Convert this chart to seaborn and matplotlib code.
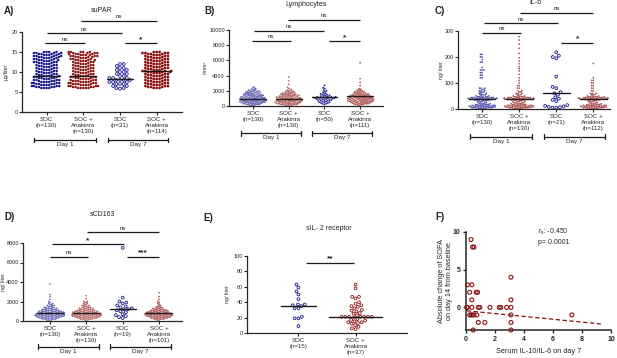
import numpy as np
import pandas as pd
import matplotlib
matplotlib.use("Agg")
import matplotlib.pyplot as plt
import seaborn as sns

BLUE = "#16168c"
RED = "#8c1212"

# values; *_v = value, *_n = how many dots sit at that value
# A) suPAR (ug/liter)
a_steps = [6.0, 6.25, 6.5, 6.75, 7.0, 7.25, 7.5, 7.75, 8.0, 8.25, 8.5, 8.75, 9.0,
           9.25, 9.5, 9.75, 10.0, 10.25, 10.5, 10.75, 11.0, 11.25, 11.5, 11.75, 12.0,
           12.25, 12.5, 12.75, 13.0, 13.25, 13.5, 13.75, 14.0, 14.25, 14.5, 14.75, 15.0]
a_soc1_n = [4, 4, 4, 4, 4, 4, 4, 3, 4, 3, 4, 3, 4,
            3, 3, 3, 3, 3, 3, 3, 3, 3, 3, 3, 3,
            3, 4, 3, 4, 3, 4, 4, 4, 4, 4, 4, 4]
a_ana1_n = [5, 4, 4, 4, 4, 4, 4, 4, 3, 4, 3, 4, 3,
            3, 3, 3, 3, 3, 3, 3, 3, 3, 3, 3, 3,
            3, 3, 3, 4, 3, 3, 4, 4, 4, 4, 4, 5]
a_soc7 = [12, 12, 11.5, 11, 11, 10.5, 10.5, 10, 10, 9.5, 9.5, 9, 9, 8.5, 8.5, 8.5, 8, 8, 8, 8,
          7.5, 7.5, 7.5, 7, 7, 7, 6.5, 6.5, 6, 6, 5.8]
a_ana7_n = [3, 3, 3, 3, 3, 3, 3, 3, 3, 3, 3, 3, 3,
            3, 3, 3, 4, 4, 3, 3, 3, 3, 3, 3, 3,
            3, 3, 3, 3, 3, 3, 3, 3, 3, 3, 4, 3]
a_medians = [9.1, 9.0, 8.3, 10.2]
a_labels = ["SOC\n(n=130)", "SOC +\nAnakinra\n(n=130)", "SOC\n(n=31)", "SOC +\nAnakinra\n(n=114)"]

# B) Lymphocytes (/mm3)
b_soc1_v = [100, 200, 300, 400, 500, 600, 700, 800, 900, 1000, 1100, 1200, 1300,
            1400, 1500, 1600, 1700, 1800, 1900, 2000, 2100, 2200, 2300, 2400, 2500]
b_soc1_n = [4, 5, 6, 7, 8, 8, 8, 8, 8, 7, 7, 7, 6, 6, 6, 5, 5, 4, 4, 3, 3, 2, 1, 1, 1]
b_ana1_v = [100, 200, 300, 400, 500, 600, 700, 800, 900, 1000, 1100, 1200, 1300,
            1400, 1500, 1600, 1700, 1800, 1900, 2000, 2100, 2200, 2300, 2450, 2850, 3300, 3800]
b_ana1_n = [5, 6, 7, 8, 8, 8, 8, 8, 8, 7, 7, 7, 6, 6, 5, 5, 4, 4, 3, 2, 2, 1, 1, 1, 1, 1, 1]
b_soc7_v = [200, 300, 400, 500, 600, 700, 800, 900, 1000, 1100, 1200, 1300, 1400, 1500,
            1600, 1700, 1800, 1900, 2000, 2100, 2300, 2400, 2700]
b_soc7_n = [1, 2, 2, 3, 2, 3, 3, 4, 4, 5, 4, 3, 2, 2, 2, 1, 1, 1, 1, 1, 1, 1, 1]
b_ana7_v = [100, 200, 300, 400, 500, 600, 700, 800, 900, 1000, 1100, 1200, 1300,
            1400, 1500, 1600, 1700, 1800, 1900, 2000, 2100, 2200, 2300, 2700, 3100, 3600, 5700]
b_ana7_n = [2, 4, 5, 6, 6, 7, 7, 7, 7, 7, 7, 6, 6, 5, 5, 4, 4, 3, 3, 2, 2, 1, 1, 1, 1, 1, 1]
b_medians = [950, 950, 1200, 1300]
b_labels = ["SOC\n(n=130)", "SOC +\nAnakinra\n(n=130)", "SOC\n(n=50)", "SOC +\nAnakinra\n(n=111)"]

# C) IL-6 (ng/liter)
c_soc1_v = [2, 5, 8, 11, 14, 17, 20, 24, 28, 32, 35, 38, 41, 44, 47, 50, 55, 60, 65, 70, 75, 80,
            120, 130, 140, 150, 160, 180, 190, 200, 210]
c_soc1_n = [6, 7, 8, 8, 7, 5, 4, 3, 3, 4, 6, 9, 9, 8, 5, 3, 4, 3, 3, 3, 2, 3,
            2, 2, 2, 3, 1, 2, 1, 2, 2]
c_ana1_v = [2, 5, 8, 11, 14, 17, 20, 24, 28, 32, 35, 38, 41, 44, 47, 50, 55, 60, 65, 70, 80, 90,
            100, 110, 120, 133, 146, 155, 163, 174, 184, 197, 214, 233, 250, 265, 278]
c_ana1_n = [6, 7, 9, 9, 8, 5, 4, 4, 4, 3, 6, 10, 10, 8, 5, 3, 3, 3, 2, 2, 2, 2,
            1, 1, 1, 1, 1, 1, 1, 1, 1, 1, 1, 1, 1, 1, 1]
c_soc7 = [218, 205, 200, 195, 125, 85, 80, 65, 60, 55, 45, 40, 35, 30, 15, 12, 10, 8, 7, 5, 5]
c_ana7_v = [2, 5, 8, 11, 14, 17, 20, 24, 28, 32, 35, 38, 41, 44, 47, 50,
            55, 60, 70, 80, 90, 100, 110, 120, 175]
c_ana7_n = [6, 7, 8, 8, 7, 5, 4, 3, 3, 3, 5, 9, 10, 7, 6, 3,
            3, 3, 2, 2, 2, 2, 2, 1, 1]
c_medians = [40, 40, 60, 40]
c_labels = ["SOC\n(n=130)", "SOC +\nAnakinra\n(n=130)", "SOC\n(n=21)", "SOC +\nAnakinra\n(n=112)"]

# D) sCD163 (ng/liter)
d_soc1_v = [100, 200, 300, 400, 500, 600, 700, 800, 900, 1000, 1100, 1200, 1300, 1400,
            1500, 1600, 1700, 1800, 1900, 2000, 2200, 2500, 2700, 3800]
d_soc1_n = [4, 6, 8, 10, 11, 12, 11, 11, 10, 9, 7, 6, 5, 4, 3, 3, 2, 2, 1, 1, 1, 1, 1, 1]
d_ana1_v = [100, 200, 300, 400, 500, 600, 700, 800, 900, 1000, 1100, 1200, 1300, 1400,
            1500, 1600, 1700, 1800, 1900, 2000, 2300, 2600]
d_ana1_n = [3, 6, 8, 10, 11, 12, 12, 11, 10, 9, 7, 6, 5, 4, 3, 3, 2, 2, 2, 2, 1, 1]
d_soc7 = [7500, 2400, 2000, 1900, 1800, 1600, 1500, 1400, 1300, 1200, 1200, 1100, 1000, 900, 700, 600, 500, 400, 300]
d_ana7_v = [100, 200, 300, 400, 500, 600, 700, 800, 900, 1000, 1100, 1200, 1300, 1400,
            1500, 1600, 1700, 1800, 1900, 2000, 2200, 2500, 2900]
d_ana7_n = [2, 5, 6, 8, 9, 10, 10, 9, 8, 7, 6, 5, 3, 3, 2, 1, 1, 1, 1, 1, 1, 1, 1]
d_medians = [800, 800, 1250, 800]
d_labels = ["SOC\n(n=130)", "SOC +\nAnakinra\n(n=130)", "SOC\n(n=19)", "SOC +\nAnakinra\n(n=101)"]

# E) sIL-2 receptor (ng/liter)
e_soc = [63, 59, 54, 50, 44, 37, 37, 36, 35, 32, 32, 21, 19, 19, 9]
e_ana = [63, 58, 47, 47, 45, 40, 38, 36, 35, 34, 32, 30, 29, 28, 26, 25, 23, 21, 21, 21, 21, 21, 21, 21,
         20, 18, 17, 16, 15, 14, 14, 13, 12, 10, 8, 6, 5]
e_medians = [35.5, 21]
e_labels = ["SOC\n(n=15)", "SOC +\nAnakinra\n(n=37)"]

# F) IL-10/IL-6 vs SOFA change
f_x = [0.35, 0.45, 0.55, 3.1, 0.1, 0.4, 0.25, 0.7, 0.8, 3.1, 0.4,
       0.05, 0.1, 0.4, 0.85, 0.95, 1.65, 2.3, 2.4, 2.8, 3.1,
       0.25, 0.35, 0.45, 0.55, 0.75, 3.1, 7.3, 0.85, 1.3, 3.1, 0.5, 3.1]
f_y = [9, 8, 8, 4, 3, 3, 2, 2, 2, 1, 1,
       0, 0, 0, 0, 0, 0, 0, 0, 0, 0,
       -1, -1, -1, -1, -1, -1, -1, -2, -2, -2, -3, -3]
f_fit_x = [0.05, 9.3]
f_fit_y = [-0.45, -2.2]


def grp(v, n=None):
    return np.repeat(v, n) if n is not None else np.asarray(v, dtype=float)


def make_hollow(colls, color, lw):
    for coll in colls:
        coll.set_facecolor("none")
        coll.set_edgecolor(color)
        coll.set_linewidth(lw)


def sig(ax, x1, x2, y, text):
    ax.plot([x1, x2], [y, y], color="k", lw=0.9, clip_on=False, solid_capstyle="butt")
    star = "*" in text
    ax.annotate(text, xy=((x1 + x2) / 2, y), xytext=(0, 0.2 if star else 1.2),
                textcoords="offset points", ha="center", va="bottom",
                fontsize=6 if star else 4.5, fontweight="bold" if star else "normal",
                annotation_clip=False)


def day_brackets(ax, yf):
    tr = ax.get_xaxis_transform()
    for x0, x1, lab in [(-0.33, 1.34, "Day 1"), (1.66, 3.32, "Day 7")]:
        ax.plot([x0, x1], [yf, yf], color="k", lw=0.9, transform=tr, clip_on=False)
        for xe in (x0, x1):
            ax.plot([xe, xe], [yf - 0.03, yf + 0.03], color="k", lw=0.9, transform=tr, clip_on=False)
        ax.annotate(lab, xy=((x0 + x1) / 2, yf), xycoords=tr, xytext=(0, -1.5),
                    textcoords="offset points", ha="center", va="top", fontsize=4.6)


def dot_panel(ax, groups, marks, labels, medians, mwidth, ylim, yticks, ylabel, ylab_x, xlim, sigs, day_y=None):
    # marks: (marker size, ring width) per group; dense groups get small thick rings so the swarm fits
    keys = [f"g{i}" for i in range(len(groups))]
    for i, g in enumerate(groups):
        size, lw = marks[i]
        col = BLUE if i % 2 == 0 else RED
        n0 = len(ax.collections)
        sns.swarmplot(x=[keys[i]] * len(g), y=g, order=keys, color=col,
                      size=size, linewidth=lw, ax=ax, warn_thresh=1.0)
        make_hollow(ax.collections[n0:], col, lw)
    for i, m in enumerate(medians):
        ax.plot([i - mwidth[i], i + mwidth[i]], [m, m], color="k", lw=1.0, zorder=5)
    ax.set_xlim(*xlim)
    ax.set_ylim(*ylim)
    ax.set_yticks(yticks)
    ax.set_xticks(range(len(groups)))
    ax.set_xticklabels(labels, fontsize=4.4, linespacing=1.25)
    ax.tick_params(axis="y", labelsize=4.0, length=2, width=0.8, pad=1)
    ax.tick_params(axis="x", length=2, width=0.8, pad=1.5)
    ax.set_xlabel("")
    ax.set_ylabel(ylabel, fontsize=3.8, va="center")
    ax.yaxis.set_label_coords(ylab_x, 0.5)
    for s in ("left", "bottom"):
        ax.spines[s].set_linewidth(0.9)
    sns.despine(ax=ax)
    for x1, x2, y, t in sigs:
        sig(ax, x1, x2, y, t)
    if day_y is not None:
        day_brackets(ax, day_y)


sns.set_theme(style="ticks")
plt.rcParams["font.family"] = ["Liberation Sans", "DejaVu Sans"]
plt.rcParams["mathtext.fontset"] = "custom"
plt.rcParams["mathtext.rm"] = "Liberation Sans"
plt.rcParams["mathtext.it"] = "Liberation Sans"

W, H = 617, 358
fig = plt.figure(figsize=(W / 100, H / 100), dpi=100)


def px_axes(x0, y_top, x1, y_bot):
    return fig.add_axes([x0 / W, 1 - y_bot / H, (x1 - x0) / W, (y_bot - y_top) / H])


def fig_text(x, y, s, **kw):
    fig.text(x / W, 1 - y / H, s, **kw)


mw4 = [0.36, 0.36, 0.36, 0.36]
SPARSE = (2.0, 0.6)

# A
ax = px_axes(22, 32, 182, 112)
dot_panel(ax, [grp(a_steps, a_soc1_n), grp(a_steps, a_ana1_n), grp(a_soc7), grp(a_steps, a_ana7_n)],
          [(0.8, 1.0), (0.8, 1.0), SPARSE, (1.0, 1.0)],
          a_labels, a_medians, mw4, (0, 20), [0, 5, 10, 15, 20], "µg/liter", -0.1, (-0.67, 3.69),
          [(-0.05, 1.05, 17.2, "ns"), (0.0, 2.05, 19.7, "ns"), (0.95, 3.0, 22.75, "ns"), (2.15, 3.0, 17.2, "*")],
          day_y=-0.35)

# B
ax = px_axes(229, 30, 383, 106)
dot_panel(ax, [grp(b_soc1_v, b_soc1_n), grp(b_ana1_v, b_ana1_n), grp(b_soc7_v, b_soc7_n), grp(b_ana7_v, b_ana7_n)],
          [(0.3, 0.8), (0.3, 0.8), (0.5, 0.8), (0.35, 0.8)],
          b_labels, b_medians, mw4, (0, 10000), [0, 2000, 4000, 6000, 8000, 10000], "/mm³", -0.15, (-0.67, 3.64),
          [(-0.04, 1.06, 8550, "ns"), (0.04, 2.0, 9870, "ns"), (0.98, 3.0, 11300, "ns"), (2.13, 3.0, 8550, "*")],
          day_y=-0.36)

# C
ax = px_axes(458, 31, 610, 109)
dot_panel(ax, [grp(c_soc1_v, c_soc1_n), grp(c_ana1_v, c_ana1_n), grp(c_soc7), grp(c_ana7_v, c_ana7_n)],
          [(0.35, 0.8), (0.35, 0.8), SPARSE, (0.35, 0.8)],
          c_labels, c_medians, mw4, (0, 300), [0, 100, 200, 300], "ng/ liter", -0.11, (-0.65, 3.45),
          [(0.0, 1.05, 293, "ns"), (0.05, 2.05, 330, "ns"), (1.03, 3.0, 370, "ns"), (2.14, 3.0, 255, "*")],
          day_y=-0.355)

# D
ax = px_axes(23, 243, 182, 321)
dot_panel(ax, [grp(d_soc1_v, d_soc1_n), grp(d_ana1_v, d_ana1_n), grp(d_soc7), grp(d_ana7_v, d_ana7_n)],
          [(0.3, 0.75), (0.3, 0.75), SPARSE, (0.35, 0.8)],
          d_labels, d_medians, mw4, (0, 8000), [0, 2000, 4000, 6000, 8000], "ng/ liter", -0.12, (-0.74, 3.63),
          [(0.0, 1.05, 6600, "ns"), (0.05, 2.04, 7870, "*"), (1.02, 3.0, 9100, "ns"), (2.13, 3.0, 6600, "***")],
          day_y=-0.33)

# E
ax = px_axes(247, 256, 407, 333)
dot_panel(ax, [grp(e_soc), grp(e_ana)], [SPARSE, SPARSE], e_labels, e_medians, [0.3, 0.47], (0, 100),
          [0, 20, 40, 60, 80, 100], "ng/ liter", -0.12, (-0.9, 1.9),
          [(0.14, 0.98, 91.3, "**")])

# F
ax = px_axes(466, 232, 611, 330)
n0 = len(ax.collections)
sns.scatterplot(x=f_x, y=f_y, color=RED, s=8, ax=ax, clip_on=False, zorder=4)
make_hollow(ax.collections[n0:], RED, 0.8)
sns.lineplot(x=f_fit_x, y=f_fit_y, color=RED, lw=0.9, ls=(0, (3.5, 2)), ax=ax)
ax.set_xlim(0, 10)
ax.set_ylim(-3, 10)
ax.set_xticks([0, 2, 4, 6, 8, 10])
ax.set_yticks([0, 5, 10])
ax.tick_params(labelsize=5, length=2.5, width=1.0, pad=1.5)
for lab in ax.get_xticklabels() + ax.get_yticklabels():
    lab.set_fontweight("bold")
for s in ("left", "bottom"):
    ax.spines[s].set_linewidth(1.1)
sns.despine(ax=ax)
ax.set_xlabel("Serum IL-10/IL-6 on day 7", fontsize=5.3, va="center")
ax.xaxis.set_label_coords(0.5, -0.22)
ax.set_ylabel("Absolute change of SOFA\non day 14 from baseline", fontsize=5.3, linespacing=1.1, va="center")
ax.yaxis.set_label_coords(-0.14, 0.5)
ax.text(4.95, 10.0, r"r$_{\rm s}$: -0.450", fontsize=5, va="center", ha="left")
ax.text(4.95, 8.66, "p= 0.0001", fontsize=5, va="center", ha="left")

# titles and panel letters
fig_text(101.7, 11, "suPAR", fontsize=5, ha="center", va="center")
fig_text(306, 4, "Lymphocytes", fontsize=5, ha="center", va="center")
fig_text(535.3, 3, "IL-6", fontsize=5, ha="center", va="center")
fig_text(102.2, 215, "sCD163", fontsize=5, ha="center", va="center")
fig_text(328.5, 228.3, "sIL- 2 receptor", fontsize=5, ha="center", va="center")
for x, y, s in [(4, 11, "A)"), (204, 11, "B)"), (435, 11, "C)"), (4, 217, "D)"), (203, 218, "E)"), (435, 217, "F)")]:
    fig_text(x, y, s, fontsize=7, fontweight="bold", ha="left", va="center")

fig.savefig("out.png", dpi=100)
